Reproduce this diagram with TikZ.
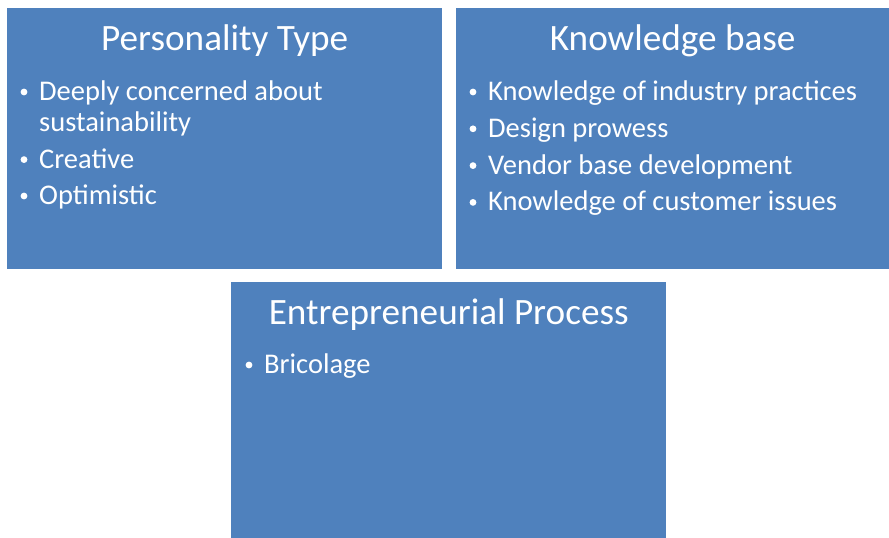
\documentclass[tikz,border=0pt]{standalone}
\usepackage{fontspec}
\setmainfont{Carlito}
\usetikzlibrary{positioning}
\definecolor{PanelBlue}{RGB}{79,129,189}

\begin{document}
\begin{tikzpicture}[x=1pt, y=-1pt,
    panel/.style={fill=PanelBlue, inner sep=0pt, anchor=north west},
    heading/.style={text=white, inner sep=0pt, anchor=base,
                    font=\fontsize{37.2}{44}\selectfont},
    entry/.style={text=white, inner sep=0pt, anchor=base west,
                  font=\fontsize{28.5}{34}\selectfont},
    dot/.style={white}]
  \useasboundingbox (0,0) rectangle (889,538);

  % panels
  \node[panel, minimum width=435pt, minimum height=260.5pt] (pers) at (7,8) {};
  \node[panel, minimum width=433pt, minimum height=260.5pt] (know) at (456,8) {};
  \node[panel, minimum width=435pt, minimum height=256pt] (proc) at (231,282) {};

  % headings
  \node[heading] (pers-title) at ([yshift=-42.5pt]pers.north) {Personality Type};
  \node[heading] (know-title) at ([yshift=-42.5pt]know.north) {Knowledge base};
  \node[heading] (proc-title) at ([yshift=-42.5pt]proc.north) {Entrepreneurial Process};

  % personality items
  \node[entry] (pers-1) at ([xshift=32pt, yshift=-92.5pt]pers.north west) {Deeply concerned about};
  \node[entry] (pers-1b) at ([yshift=-31pt]pers-1.base west) {sustainability};
  \node[entry] (pers-2) at ([yshift=-36.6pt]pers-1b.base west) {Creative};
  \node[entry] (pers-3) at ([yshift=-36.4pt]pers-2.base west) {Optimistic};
  \foreach \i in {1,2,3}
    \fill[dot] ([xshift=-15pt, yshift=8.5pt]pers-\i.base west) circle (3.4pt);

  % knowledge items
  \foreach \txt [count=\i] in {Knowledge of industry practices, Design prowess,
      Vendor base development, Knowledge of customer issues} {
    \node[entry] (know-\i) at ([xshift=32pt, yshift={-92.5pt-36.8pt*(\i-1)}]know.north west) {\txt};
    \fill[dot] ([xshift=-15pt, yshift=8.5pt]know-\i.base west) circle (3.4pt);
  }

  % process items
  \node[entry] (proc-1) at ([xshift=33pt, yshift=-91.5pt]proc.north west) {Bricolage};
  \fill[dot] ([xshift=-15pt, yshift=8.5pt]proc-1.base west) circle (3.4pt);
\end{tikzpicture}
\end{document}
